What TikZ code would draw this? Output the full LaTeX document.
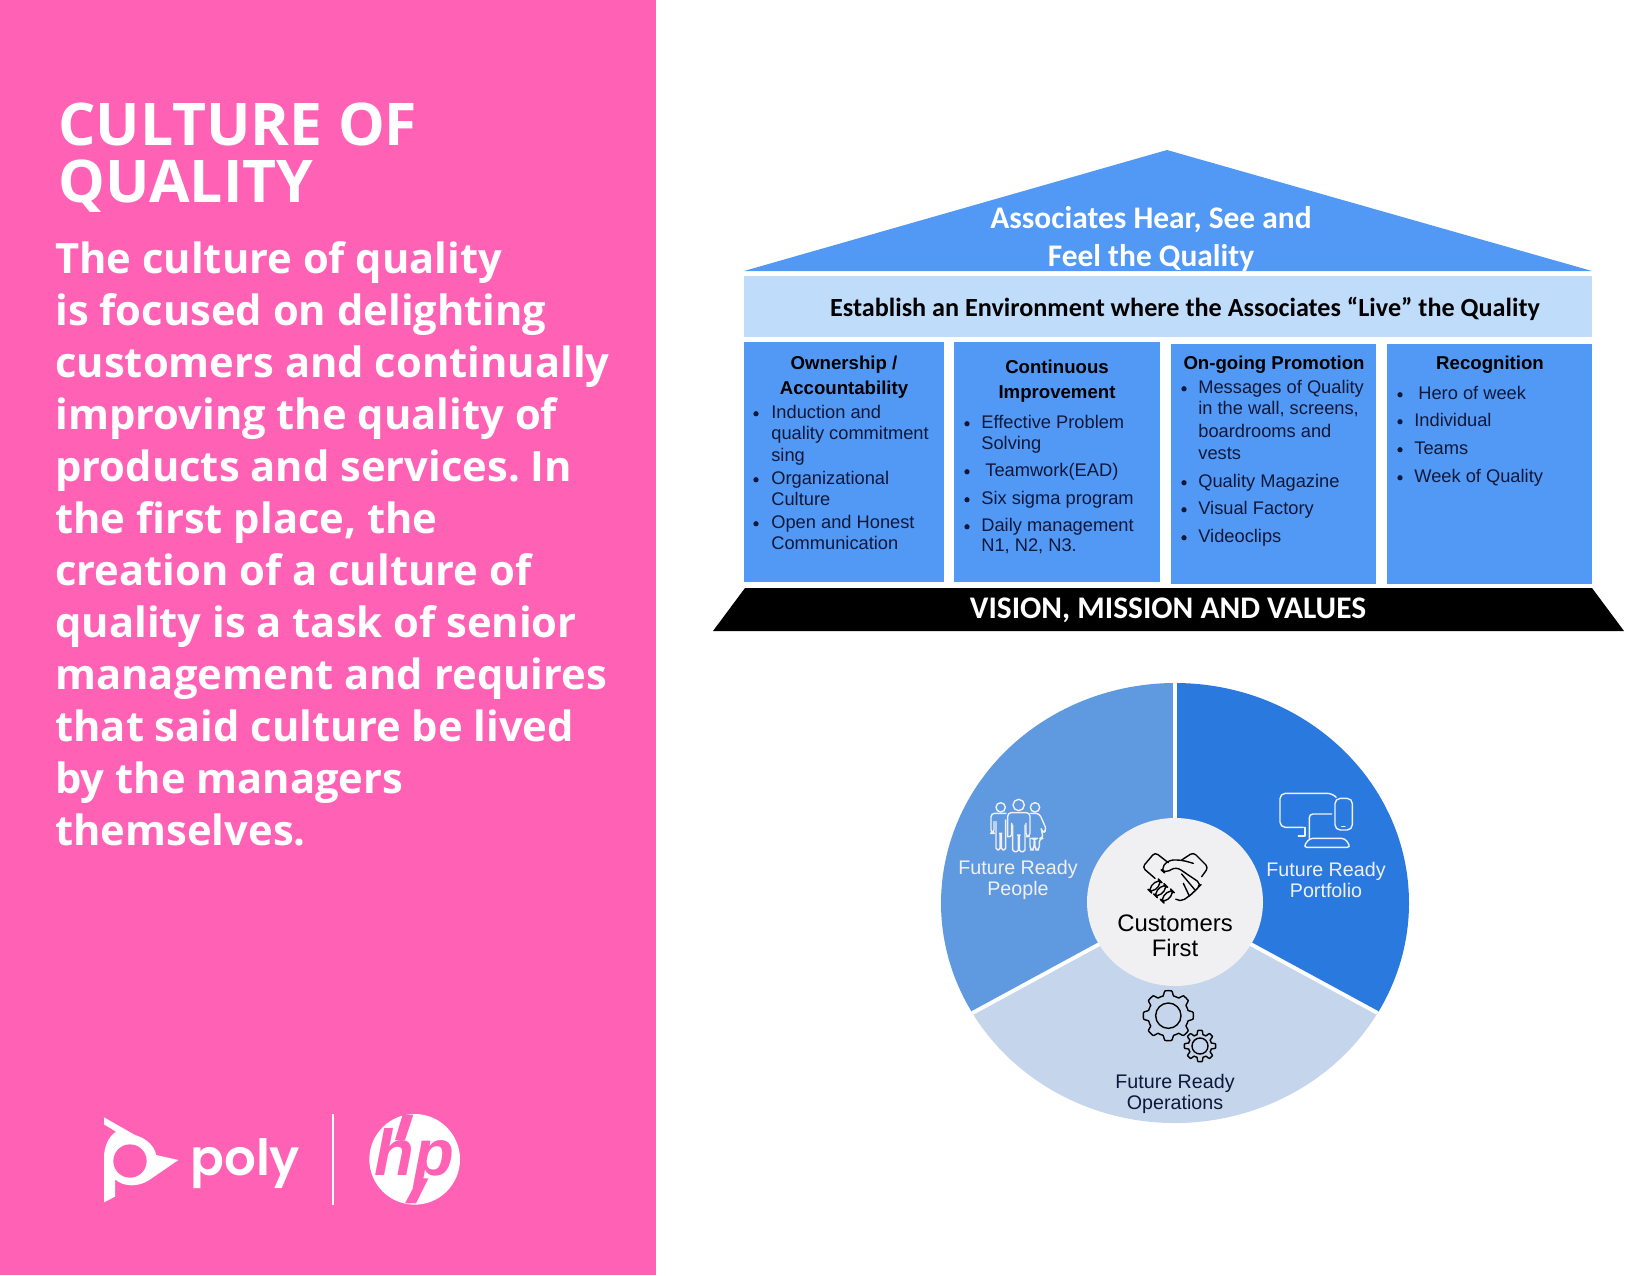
\documentclass[tikz,border=0pt]{standalone}
\usepackage{fontspec}
\setmainfont{Open Sans}
\newfontfamily\roofface{Carlito}
\newfontfamily\colface{Liberation Sans}
\newfontfamily\logoface{Poppins SemiBold}
\definecolor{panelpink}{HTML}{FF61B5}
\definecolor{housepale}{HTML}{BFDCFB}
\definecolor{houseblue}{HTML}{5199F5}
\definecolor{inktext}{HTML}{10183A}
\definecolor{peopleblue}{HTML}{5F99E0}
\definecolor{portfolioblue}{HTML}{2A79DE}
\definecolor{opspale}{HTML}{C5D5EC}
\definecolor{hubgrey}{HTML}{F0F0F2}
\newcommand{\gearshape}[5]{%
  \draw[iconline] plot[domain=0:360,samples=145,variable=\t]
    ({#1+(#3+#4*max(-1,min(1,2.5*cos(8*\t))))*cos(\t)},
     {#2+(#3+#4*max(-1,min(1,2.5*cos(8*\t))))*sin(\t)}) -- cycle;
  \draw[iconline] (#1,#2) circle [radius=#5];}
\tikzset{
  paneltext/.style={anchor=north west,align=left,text=white,inner sep=0pt},
  coltext/.style={anchor=west,inner sep=0pt,yshift=-1pt,text=inktext,text height=7.5pt,text depth=2.5pt,font=\fontsize{10.4}{12}\selectfont\colface},
  colhead/.style={align=center,inner sep=0pt,text=black,font=\fontsize{10.6}{14}\selectfont\colface\bfseries},
  pielabel/.style={align=center,inner sep=0pt,font=\fontsize{11.2}{12}\selectfont\colface},
  dot/.style={circle,fill=inktext,inner sep=0pt,minimum size=3pt,yshift=-1pt},
  iconline/.style={line width=0.8pt,line join=round,line cap=round},
}
\begin{document}
\begin{tikzpicture}[x=0.02cm,y=-0.02cm]
\useasboundingbox (0,0) rectangle (1650,1275);
% ---- panel ----
\fill[panelpink] (0,0) rectangle (656,1275);
\node[paneltext,font=\fontsize{33.5}{32.8}\selectfont\bfseries\frenchspacing] (title) at (58,102) {CULTURE OF\\QUALITY};
\node[paneltext,font=\fontsize{23.75}{29.6}\selectfont\bfseries\frenchspacing] (body) at (55,241) {The culture of quality\\
is focused on delighting\\customers and continually\\improving the quality of\\
products and services. In\\the first place, the\\creation of a culture of\\
quality is a task of senior\\management and requires\\that said culture be lived\\
by the managers\\themselves.};
% ---- logos ----
\begin{scope}[shift={(80,1090)},scale=1/3]
\fill[white] (72,82) -- (165,135) .. controls (200,145) and (225,170) .. (228,195) -- (295,210)
  -- (215,265) .. controls (175,295) and (130,290) .. (105,268) -- (105,320) -- (72,337) -- (72,205)
  .. controls (72,170) and (85,140) .. (108,125) -- (72,103) -- cycle;
\fill[panelpink] (150,213) circle [radius=50];
\node[anchor=base west,inner sep=0pt,text=white,font=\fontsize{28.4}{30}\selectfont\logoface] (polyname) at (330,255) {poly};
\draw[white,line width=1pt] (760,72) -- (760,345);
\fill[white] (1004,208) circle [radius=136];
\node[inner sep=0pt,text=panelpink,font=\fontsize{37}{39}\selectfont\colface\bfseries\itshape] (hpname) at (1004,205) {hp};
\fill[panelpink] (968,74) -- (1000,74) -- (975,150) -- (945,150) -- cycle;
\fill[panelpink] (1015,265) -- (1045,265) -- (1008,340) -- (975,340) -- cycle;
\end{scope}
% ---- house ----
\fill[houseblue] (1167,150) -- (1592,271) -- (744,271) -- cycle;
\fill[housepale] (744,276) rectangle (1592,337);
\fill[houseblue] (744,342) rectangle (944,582);
\fill[houseblue] (954,342) rectangle (1160,582);
\fill[houseblue] (1171,344) rectangle (1376,584);
\fill[houseblue] (1387,344) rectangle (1592,584);
\fill[black] (745,588) -- (1592,588) -- (1624,631) -- (713,631) -- cycle;
\node[align=center,inner sep=0pt,text=white,font=\fontsize{17.9}{21.6}\selectfont\roofface\bfseries] (roof) at (1151,239) {Associates Hear, See and\\Feel the Quality};
\node[inner sep=0pt,text=black,font=\fontsize{14.9}{18}\selectfont\roofface\bfseries] (band) at (1185,309) {Establish an Environment where the Associates “Live” the Quality};
\node[inner sep=0pt,text=white,font=\fontsize{17.9}{20}\selectfont\roofface\bfseries] (base) at (1168,610) {VISION, MISSION AND VALUES};
% ---- column 1 ----
\node[colhead] (heada) at (844,377) {Ownership /\\Accountability};
\foreach \x/\y/\t [count=\n] in {771/412/Induction and,771/433/quality commitment,771/455/sing,
  771/478/Organizational,771/499/Culture,771/522/Open and Honest,771/543/Communication}{
  \node[coltext] (itema\n) at (\x,\y) {\t};}
\foreach \y [count=\n] in {412,478,522}{
  \node[dot] (dota\n) at (756,\y) {};}
% ---- column 2 ----
\node[colhead] (headb) at (1057,381) {Continuous\\Improvement};
\foreach \x/\y/\t [count=\n] in {981/422/Effective Problem,981/443/Solving,985/470/Teamwork(EAD),
  981/498/Six sigma program,981/525/Daily management,981/545/{N1, N2, N3.}}{
  \node[coltext] (itemb\n) at (\x,\y) {\t};}
\foreach \y [count=\n] in {422,470,498,525}{
  \node[dot] (dotb\n) at (967,\y) {};}
% ---- column 3 ----
\node[colhead] (headc) at (1274,365) {On-going Promotion};
\foreach \x/\y/\t [count=\n] in {1198/387/Messages of Quality,1198/408/{in the wall, screens,},
  1198/431/boardrooms and,1198/453/vests,1198/481/Quality Magazine,1198/508/Visual Factory,1198/536/Videoclips}{
  \node[coltext] (itemc\n) at (\x,\y) {\t};}
\foreach \y [count=\n] in {387,481,508,536}{
  \node[dot] (dotc\n) at (1184,\y) {};}
% ---- column 4 ----
\node[colhead] (headd) at (1490,365) {Recognition};
\foreach \x/\y/\t [count=\n] in {1418/393/Hero of week,1414/420/Individual,1414/448/Teams,1414/476/Week of Quality}{
  \node[coltext] (itemd\n) at (\x,\y) {\t};
  \node[dot] (dotd\n) at (1400,\y) {};}
% ---- pie ----
\def\cx{1175}
\def\cy{903}
\coordinate (hubc) at (\cx,\cy);
\coordinate (rimtop) at (\cx,683);
\coordinate (rimleft) at (972.4,1013);
\coordinate (rimright) at (1377.6,1013);
\fill[portfolioblue] (hubc) -- (rimtop) arc [x radius=234,y radius=220,start angle=-90,end angle=30] -- cycle;
\fill[peopleblue] (hubc) -- (rimleft) arc [x radius=234,y radius=220,start angle=150,end angle=270] -- cycle;
\fill[opspale] (hubc) -- (rimright) arc [x radius=234,y radius=220,start angle=30,end angle=150] -- cycle;
\draw[white,line width=2.2pt] (hubc) -- (rimtop) (hubc) -- (rimleft) (hubc) -- (rimright);
\fill[hubgrey] (1175,902) ellipse [x radius=88,y radius=84];
\node[pielabel,text=hubgrey] (people) at (1018,880) {Future Ready\\People};
\node[pielabel,text=hubgrey] (portfolio) at (1326,880) {Future Ready\\Portfolio};
\node[pielabel,text=inktext] (operations) at (1175,1094) {Future Ready\\Operations};
\node[align=center,inner sep=0pt,text=black,font=\fontsize{13.6}{14}\selectfont\colface] (hub) at (1175,936) {Customers\\First};
% ---- icons ----
\begin{scope}[shift={(920,670)},scale=1/3]
% people
\draw[iconline,draw=hubgrey] (242,412) circle [radius=14] (296,405) circle [radius=17] (345,412) circle [radius=14];
\draw[iconline,draw=hubgrey,rounded corners=2pt] (263,500) -- (263,428) -- (330,428) -- (330,500) -- (318,500) -- (318,460);
\draw[iconline,draw=hubgrey,rounded corners=1pt] (275,460) -- (275,500) -- (263,500);
\draw[iconline,draw=hubgrey,rounded corners=1pt] (278,465) -- (278,545) -- (295,545) -- (295,495) -- (298,495) -- (298,545) -- (315,545) -- (315,465);
\draw[iconline,draw=hubgrey,rounded corners=2pt] (258,430) -- (213,430) -- (213,490) -- (222,490) -- (222,455);
\draw[iconline,draw=hubgrey,rounded corners=1pt] (228,455) -- (228,540) -- (240,540) -- (240,490) -- (244,490) -- (244,540) -- (257,540) -- (257,450);
\draw[iconline,draw=hubgrey,rounded corners=2pt] (332,430) -- (358,430) -- (380,480) -- (368,490) -- (362,470) -- (370,505) -- (358,505) -- (358,540) -- (345,540) -- (345,505) -- (342,505) -- (342,540) -- (330,540) -- (330,505);
% devices
\draw[iconline,draw=hubgrey,rounded corners=3pt] (1245,378) -- (1238,370) -- (1080,370) -- (1080,472) -- (1150,472);
\draw[iconline,draw=hubgrey] (1135,498) -- (1155,498) -- (1155,472);
\draw[iconline,draw=hubgrey,rounded corners=2pt] (1168,505) -- (1168,432) -- (1235,432);
\draw[iconline,draw=hubgrey,rounded corners=2pt] (1168,505) -- (1150,532) -- (1292,532) -- (1275,505) -- cycle;
\draw[iconline,draw=hubgrey,rounded corners=3pt] (1245,385) rectangle (1297,480);
\draw[iconline,draw=hubgrey] (1265,470) -- (1275,470);
% handshake
\draw[iconline,rounded corners=2pt] (705,625) -- (667,592) -- (705,547) -- (745,578);
\draw[iconline,rounded corners=2pt] (785,570) -- (820,547) -- (865,592) -- (845,620);
\draw[iconline,rounded corners=3pt] (820,580) -- (785,570) -- (745,570) -- (722,598) -- (735,610) -- (768,590) -- (845,642) -- (832,655) -- (820,668) -- (805,680) -- (780,697) -- (768,688);
\draw[iconline] (785,612) -- (825,660) (790,640) -- (808,678);
\foreach \x/\y in {705/648,722/662,742/678}{
  \draw[iconline,rotate around={45:(\x,\y)},rounded corners=3pt] (\x-22,\y-8) rectangle (\x+22,\y+8);}
% gears
\gearshape{745}{1037}{68}{7}{38}
\gearshape{840}{1128}{41}{6}{24}
\end{scope}
\end{tikzpicture}
\end{document}
